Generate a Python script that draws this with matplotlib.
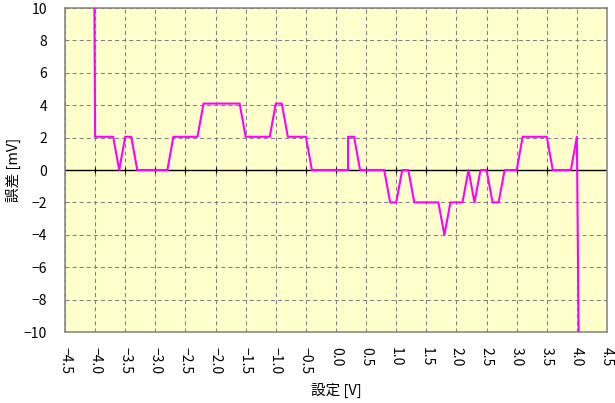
import matplotlib
matplotlib.use('Agg')
import matplotlib.pyplot as plt
import numpy as np

plt.rcParams['font.family'] = ['Noto Sans CJK JP', 'DejaVu Sans']
plt.rcParams['lines.scale_dashes'] = False

# setting [V] and error [mV], sampled every 0.1 V (0.2 appears twice: vertical step)
setting = [-4.1, -4.0, -3.9, -3.8, -3.7, -3.6, -3.5, -3.4, -3.3, -3.2,
           -3.1, -3.0, -2.9, -2.8, -2.7, -2.6, -2.5, -2.4, -2.3, -2.2,
           -2.1, -2.0, -1.9, -1.8, -1.7, -1.6, -1.5, -1.4, -1.3, -1.2,
           -1.1, -1.0, -0.9, -0.8, -0.7, -0.6, -0.5, -0.4, -0.3, -0.2,
           -0.1, 0.0, 0.1, 0.2, 0.2, 0.3, 0.4, 0.5, 0.6, 0.7,
           0.8, 0.9, 1.0, 1.1, 1.2, 1.3, 1.4, 1.5, 1.6, 1.7,
           1.8, 1.9, 2.0, 2.1, 2.2, 2.3, 2.4, 2.5, 2.6, 2.7,
           2.8, 2.9, 3.0, 3.1, 3.2, 3.3, 3.4, 3.5, 3.6, 3.7,
           3.8, 3.9, 4.0, 4.1]
error = [70, 2.05, 2.05, 2.05, 2.05, 0, 2.05, 2.05, 0, 0,
         0, 0, 0, 0, 2.05, 2.05, 2.05, 2.05, 2.05, 4.1,
         4.1, 4.1, 4.1, 4.1, 4.1, 4.1, 2.05, 2.05, 2.05, 2.05,
         2.05, 4.1, 4.1, 2.05, 2.05, 2.05, 2.05, 0, 0, 0,
         0, 0, 0, 0, 2.05, 2.05, 0, 0, 0, 0,
         0, -2.0, -2.0, 0, 0, -2.0, -2.0, -2.0, -2.0, -2.0,
         -4.0, -2.0, -2.0, -2.0, 0, -2.0, 0, 0, -2.0, -2.0,
         0, 0, 0, 2.05, 2.05, 2.05, 2.05, 2.05, 0, 0,
         0, 0, 2.05, -40]

xticks = np.arange(-4.5, 4.51, 0.5)
yticks = np.arange(-10, 10.1, 2)

fig = plt.figure(figsize=(6.15, 4.03), dpi=100)
ax = fig.add_axes([65 / 615, 1 - 332 / 403, 542 / 615, 324 / 403])
ax.set_facecolor('#FFFFCC')

ax.set_xlim(-4.5, 4.5)
ax.set_ylim(-10, 10)
ax.set_xticks(xticks)
ax.set_yticks(yticks)
ax.set_xticklabels([('%.1f' % t).replace('-', '\u2212') for t in xticks], rotation=270)
ax.set_yticklabels([('%d' % t).replace('-', '\u2212') for t in yticks])
ax.tick_params(axis='both', length=0, labelsize=10, colors='black')
ax.tick_params(axis='x', pad=11)
ax.tick_params(axis='y', pad=13)

ax.grid(True, color='#808080', linestyle=(0, (2.9, 2.2)), linewidth=0.75)
ax.set_axisbelow(True)
for s in ax.spines.values():
    s.set_color('#808080')
    s.set_linewidth(1.1)

# zero line with small tick marks on it
ax.axhline(0, color='black', linewidth=1.0, zorder=2)
inner = xticks[1:-1]
ax.plot(inner, np.zeros(len(inner)), linestyle='none', marker='|',
        markersize=5, markeredgewidth=0.8, color='black', zorder=2)

ax.plot(setting, error, color='#FF00FF', linewidth=1.5, zorder=3)

ax.set_xlabel('設定 [V]', fontsize=10.5, labelpad=6)
ax.set_ylabel('誤差 [mV]', fontsize=10.5, labelpad=2)

fig.savefig('out.png', dpi=100)
